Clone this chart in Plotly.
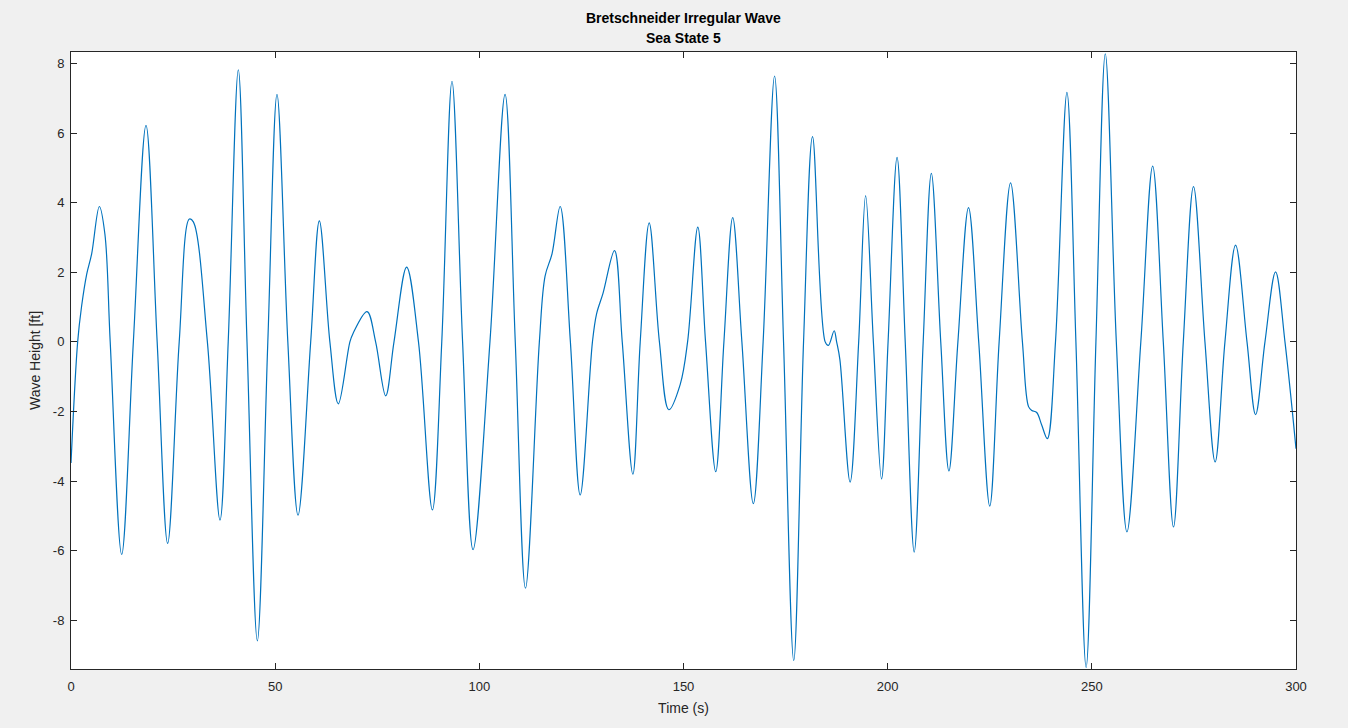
import plotly.graph_objects as go

# Time samples [s] (extrema and zero crossings)
time_s = [0, 1.63, 2.6, 3.85, 5.06, 6.94, 8.3, 9.6, 12.41, 15.27, 18.37, 21.1, 23.67, 26.5,
          28.98, 29.96, 33.4, 36.49, 38.5, 40.98, 43.1, 45.64, 48.2, 50.45, 53.1, 55.6, 58.7,
          60.82, 63.4, 65.47, 68.3, 69.1, 72.5, 74.6, 77.07, 79.1, 82.2, 85.1, 88.5, 90.8,
          93.3, 95.9, 98.46, 102.6, 106.3, 108.8, 111.3, 114.7, 116.1, 117.8, 119.8, 122.3,
          124.7, 127.7, 128.7, 130.3, 133.1, 135.0, 137.6, 139.4, 141.6, 144.1, 146.4, 149.2,
          151.0, 153.5, 155.4, 157.9, 159.9, 162.05, 164.3, 167.1, 169.5, 172.3, 174.5, 177.0,
          179.4, 181.6, 184.7, 185.5, 186.9, 187.5, 188.3, 190.8, 192.9, 194.6, 196.5, 198.5,
          200.1, 202.3, 204.3, 206.5, 208.7, 210.7, 213.0, 215.0, 217.2, 219.8, 222.3, 225.0,
          227.3, 230.1, 233.0, 234.5, 235.3, 236.5, 237.7, 239.1, 241.1, 243.9, 246.1, 248.6,
          251.0, 253.3, 256.0, 258.6, 262.0, 264.9, 267.5, 270.0, 272.4, 274.9, 277.7, 280.2,
          282.6, 285.2, 288.0, 290.1, 292.4, 295.0, 297.3, 300]

# Wave height [ft] at those times
wave_ft = [-3.48, 0, 1.03, 1.95, 2.53, 3.89, 3.1, 0, -6.11, 0, 6.22, 0, -5.79, 0,
           3.53, 3.45, 0, -5.12, 0, 7.82, 0, -8.59, 0, 7.11, 0, -4.98, 0,
           3.48, 0, -1.78, 0, 0.25, 0.87, 0, -1.55, 0, 2.15, 0, -4.83, 0,
           7.49, 0, -5.97, 0, 7.11, 0, -7.08, 0, 1.89, 2.53, 3.89, 0,
           -4.4, 0, 0.8, 1.4, 2.62, 0, -3.8, 0, 3.42, 0, -1.95, -1.22,
           0, 3.3, 0, -3.73, 0, 3.57, 0, -4.65, 0, 7.64, 0, -9.16,
           0, 5.9, 0, -0.1, 0.32, 0, -0.51, -4.03, 0, 4.2, 0, -3.94,
           0, 5.3, 0, -6.04, 0, 4.84, 0, -3.71, 0, 3.86, 0, -4.72,
           0, 4.57, 0, -1.86, -1.97, -2.03, -2.38, -2.78, 0, 7.17, 0, -9.36,
           0, 8.28, 0, -5.46, 0, 5.05, 0, -5.32, 0, 4.46, 0, -3.45,
           0, 2.78, 0, -2.09, 0, 2.01, 0, -3.07]

x_ticks = [0, 50, 100, 150, 200, 250, 300]
y_ticks = [-8, -6, -4, -2, 0, 2, 4, 6, 8]

title_lines = ["Bretschneider Irregular Wave", "Sea State 5"]

axis_col = "#262626"
font_fam = "Liberation Sans, Arial, sans-serif"

top_m, bot_m = 52, 59
plot_h = 728 - top_m - bot_m

fig = go.Figure()
fig.add_trace(go.Scatter(
    x=time_s, y=wave_ft, mode="lines",
    line=dict(color="#0072BD", width=1.2, shape="spline", smoothing=1.0),
    hoverinfo="x+y", showlegend=False,
))

fig.update_layout(
    width=1348, height=728,
    paper_bgcolor="#f0f0f0", plot_bgcolor="#ffffff",
    margin=dict(l=71, r=52, t=top_m, b=bot_m),
    font=dict(family=font_fam, size=13, color=axis_col),
    annotations=[
        dict(text="<b>%s</b>" % title_lines[0], x=0.5, xref="paper",
             y=1 + (top_m - 18) / plot_h, yref="paper", xanchor="center", yanchor="middle",
             showarrow=False, font=dict(family=font_fam, size=14, color="#000000")),
        dict(text="<b>%s</b>" % title_lines[1], x=0.5, xref="paper",
             y=1 + (top_m - 38) / plot_h, yref="paper", xanchor="center", yanchor="middle",
             showarrow=False, font=dict(family=font_fam, size=14, color="#000000")),
    ],
)

fig.update_xaxes(
    range=[0, 300], tickvals=x_ticks, ticktext=[str(v) for v in x_ticks],
    ticks="inside", ticklen=6, tickcolor=axis_col, tickwidth=1,
    showline=True, linecolor=axis_col, linewidth=1, mirror="ticks",
    showgrid=False, zeroline=False, ticklabelstandoff=5,
    title=dict(text="Time (s)", font=dict(size=14, color=axis_col), standoff=10),
    tickfont=dict(size=13, color=axis_col),
)
fig.update_yaxes(
    range=[-9.40, 8.33], tickvals=y_ticks, ticktext=[str(v) for v in y_ticks],
    ticks="inside", ticklen=6, tickcolor=axis_col, tickwidth=1,
    showline=True, linecolor=axis_col, linewidth=1, mirror="ticks",
    showgrid=False, zeroline=False, ticklabelstandoff=3,
    title=dict(text="Wave Height [ft]", font=dict(size=14, color=axis_col), standoff=8),
    tickfont=dict(size=13, color=axis_col),
)

fig.write_html(
    "out.html",
    config={"displayModeBar": False},
    post_script="document.body.style.margin='0';document.body.style.background='#f0f0f0';",
)
